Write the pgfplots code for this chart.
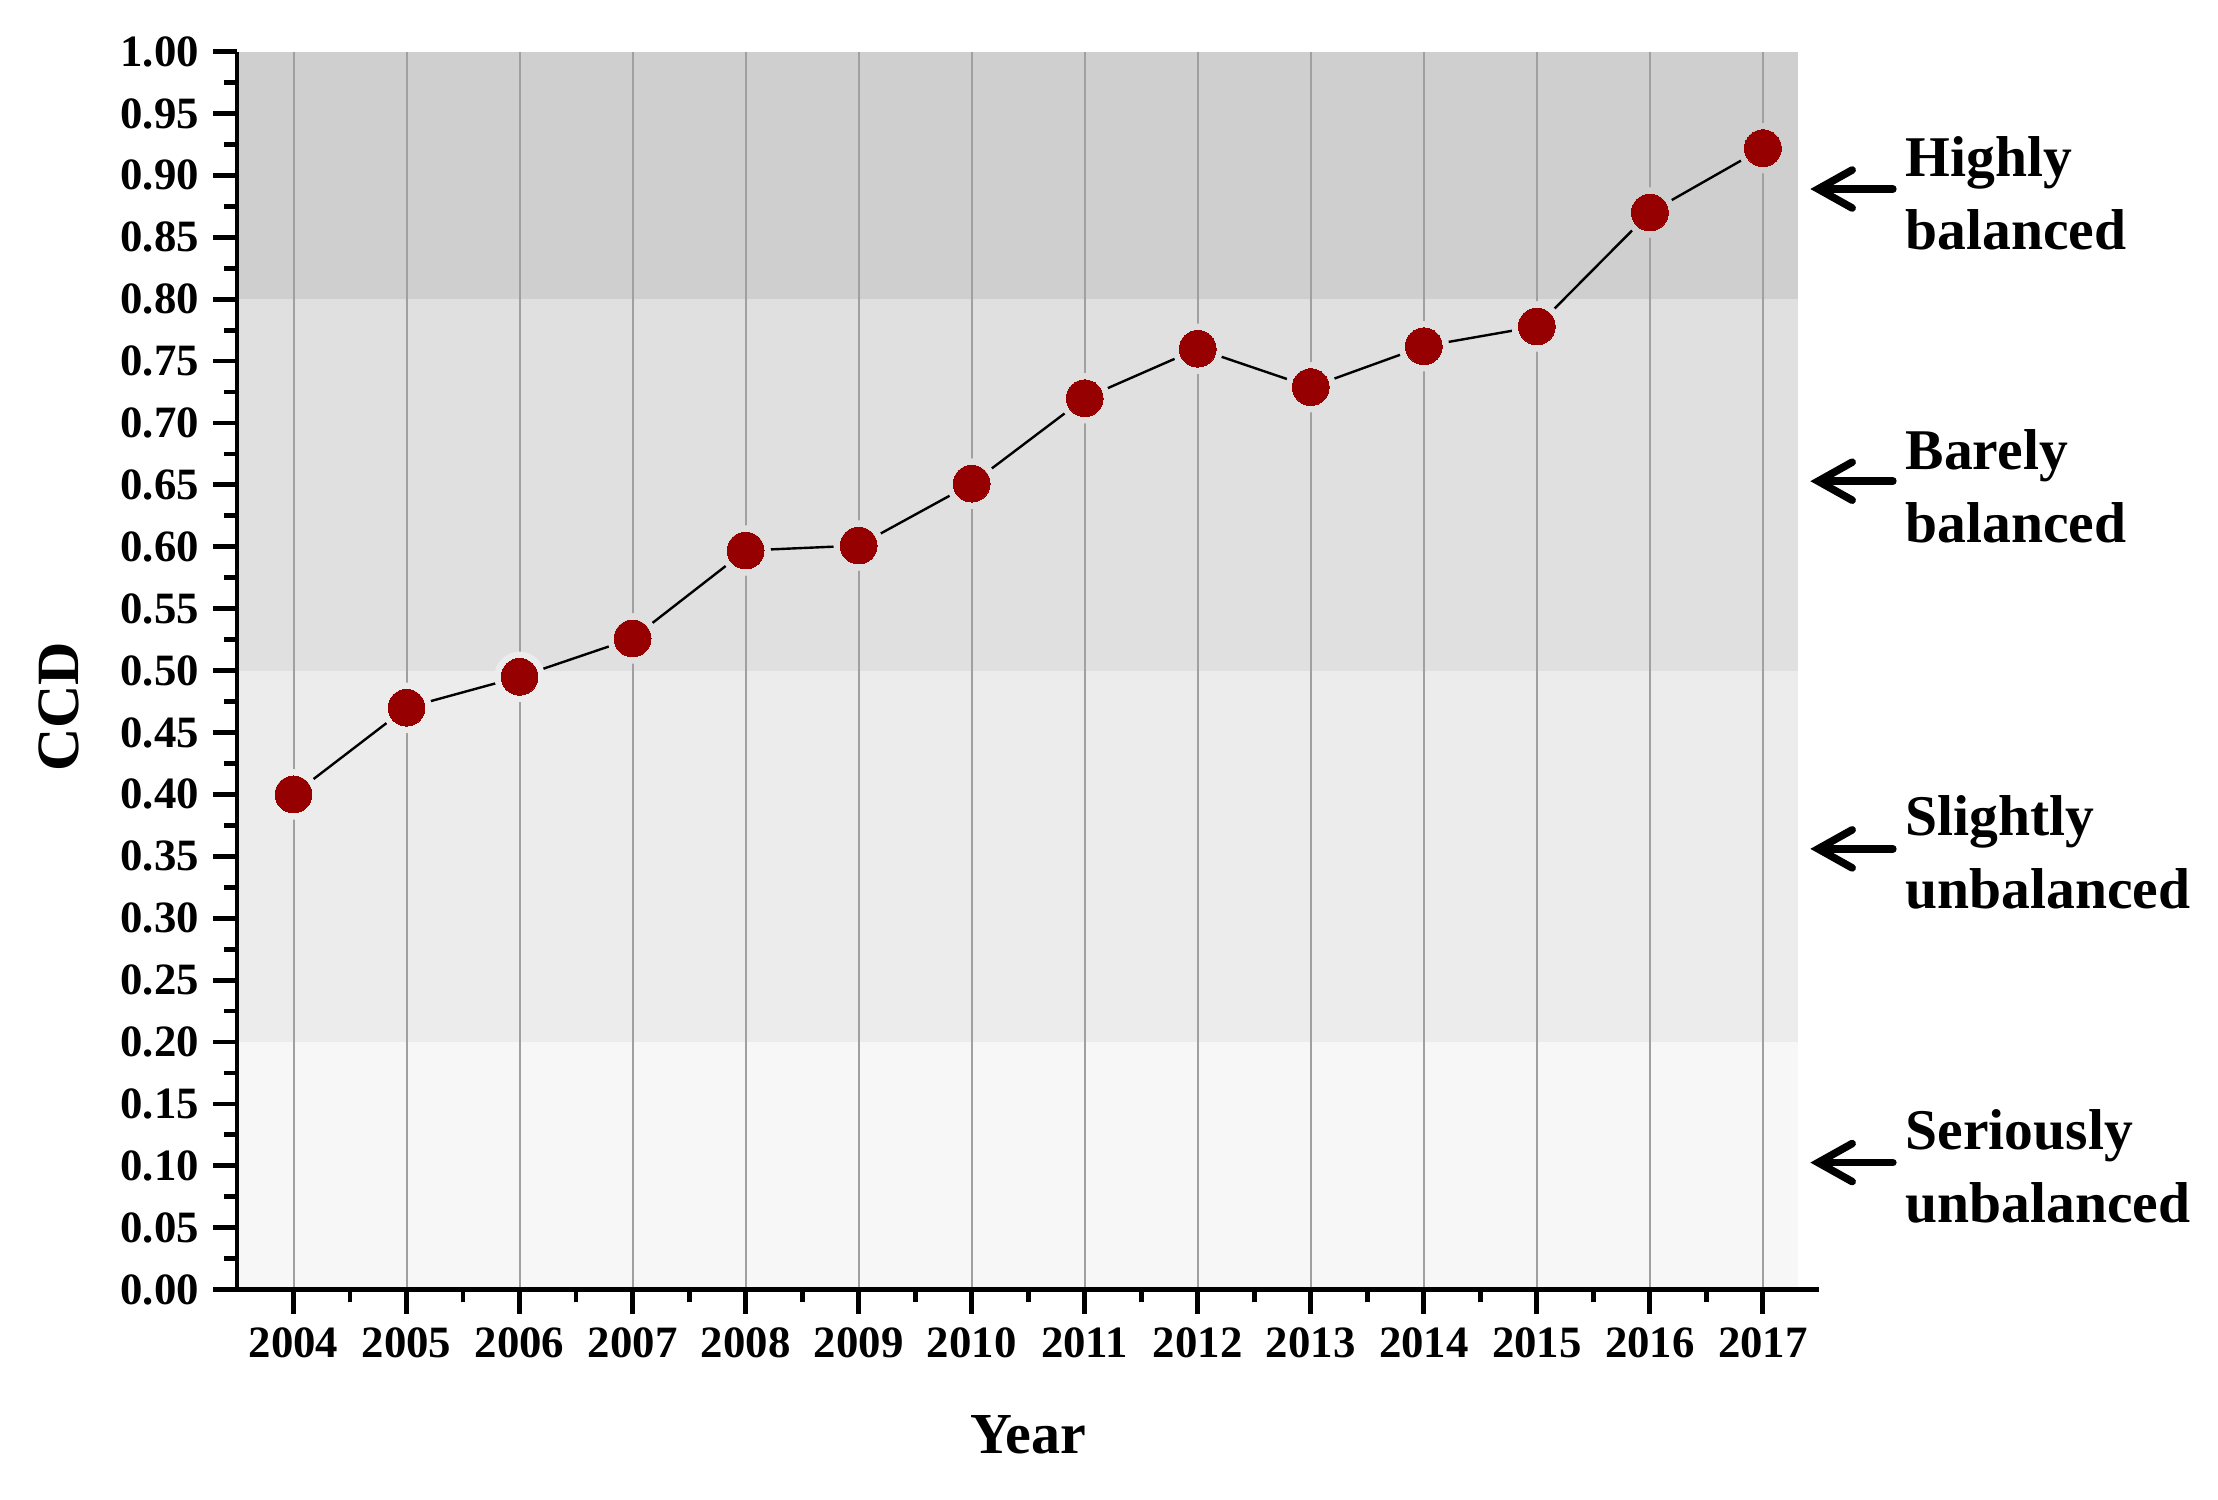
\documentclass[border=0pt]{standalone}
\usepackage{pgfplots}
\pgfplotsset{compat=1.18}
\usepackage{pgfplotstable}
\usepackage{fontspec}
\setmainfont{Liberation Serif}
\usetikzlibrary{arrows.meta}
\definecolor{band1}{RGB}{247,247,247}
\definecolor{band2}{RGB}{236,236,236}
\definecolor{band3}{RGB}{224,224,224}
\definecolor{band4}{RGB}{207,207,207}
\definecolor{gridgray}{RGB}{160,160,160}
\definecolor{dotred}{RGB}{150,0,0}

\pgfplotstableread{
year ccd
2004 0.400
2005 0.470
2006 0.495
2007 0.526
2008 0.597
2009 0.601
2010 0.651
2011 0.720
2012 0.760
2013 0.729
2014 0.762
2015 0.778
2016 0.870
2017 0.922
}\ccdtable

\begin{document}
\begin{tikzpicture}
\begin{axis}[
  set layers,
  at={(0,0)}, anchor=south west,
  scale only axis, width=395.6pt, height=309.5pt,
  xmin=2003.5, xmax=2017.5, ymin=0, ymax=1,
  axis lines*=left,
  axis line style={line width=1.2pt},
  xtick={2004,2005,2006,2007,2008,2009,2010,2011,2012,2013,2014,2015,2016,2017},
  minor x tick num=1,
  ytick={0,0.05,0.1,0.15,0.2,0.25,0.3,0.35,0.4,0.45,0.5,0.55,0.6,0.65,0.7,0.75,0.8,0.85,0.9,0.95,1},
  minor y tick num=1,
  tick align=outside,
  major tick length=6pt, minor tick length=3.2pt,
  every tick/.style={black, line width=1.2pt},
  xmajorgrids,
  major grid style={gridgray, line width=0.5pt},
  ticklabel style={font=\fontsize{11.2}{13}\selectfont\bfseries},
  /pgf/number format/assume math mode=true,
  x tick label style={/pgf/number format/1000 sep={}},
  y tick label style={/pgf/number format/.cd, fixed, fixed zerofill, precision=2},
  clip=false,
]
% background bands
\addplot[draw=none, fill=band1, on layer=axis background, forget plot] coordinates {(2003.5,0) (2017.307,0) (2017.307,0.2) (2003.5,0.2)};
\addplot[draw=none, fill=band2, on layer=axis background, forget plot] coordinates {(2003.5,0.2) (2017.307,0.2) (2017.307,0.5) (2003.5,0.5)};
\addplot[draw=none, fill=band3, on layer=axis background, forget plot] coordinates {(2003.5,0.5) (2017.307,0.5) (2017.307,0.8) (2003.5,0.8)};
\addplot[draw=none, fill=band4, on layer=axis background, forget plot] coordinates {(2003.5,0.8) (2017.307,0.8) (2017.307,1) (2003.5,1)};
% connecting line (below grid)
\addplot[black, line width=0.6pt, mark=none, on layer=axis background, forget plot] table[x=year,y=ccd] {\ccdtable};
% halos giving the gap between line and markers
\addplot[band2, only marks, mark=*, mark size=6.2pt, mark options={fill=band2, draw=band2, line width=0.2pt}, on layer=axis background, forget plot, restrict y to domain=0.2:0.4999] table[x=year,y=ccd] {\ccdtable};
\addplot[band3, only marks, mark=*, mark size=6.2pt, mark options={fill=band3, draw=band3, line width=0.2pt}, on layer=axis background, forget plot, restrict y to domain=0.5:0.7999] table[x=year,y=ccd] {\ccdtable};
\addplot[band4, only marks, mark=*, mark size=6.2pt, mark options={fill=band4, draw=band4, line width=0.2pt}, on layer=axis background, forget plot, restrict y to domain=0.8:1] table[x=year,y=ccd] {\ccdtable};
% markers
\addplot[dotred, only marks, mark=*, mark size=4.6pt, mark options={fill=dotred, draw=dotred, line width=0pt}] table[x=year,y=ccd] {\ccdtable};
% annotations
\foreach \yy in {0.889, 0.653, 0.356, 0.1026}{
  \edef\tmp{\noexpand\draw[line width=1.9pt, line cap=round, -{Straight Barb[length=8.5pt,width=9.5pt,line cap=round]}] (axis cs:2018.15,\yy) -- (axis cs:2017.42,\yy);}
  \tmp
}
\node[anchor=west, align=left, inner sep=0pt, font=\fontsize{14.4}{18.3}\selectfont\bfseries] at ([xshift=3pt,yshift=-1pt]axis cs:2018.15,0.889) {Highly\\balanced};
\node[anchor=west, align=left, inner sep=0pt, font=\fontsize{14.4}{18.3}\selectfont\bfseries] at ([xshift=3pt,yshift=-1.2pt]axis cs:2018.15,0.653) {Barely\\balanced};
\node[anchor=west, align=left, inner sep=0pt, font=\fontsize{14.4}{18.3}\selectfont\bfseries] at ([xshift=3pt,yshift=-0.8pt]axis cs:2018.15,0.356) {Slightly\\unbalanced};
\node[anchor=west, align=left, inner sep=0pt, font=\fontsize{14.4}{18.3}\selectfont\bfseries] at ([xshift=3pt,yshift=-1pt]axis cs:2018.15,0.1026) {Seriously\\unbalanced};
% axis labels
\node[rotate=90, font=\fontsize{15}{18}\selectfont\bfseries] at ([xshift=-44.5pt]axis description cs:0,0.4707) {CCD};
\node[anchor=base, font=\fontsize{14.5}{18}\selectfont\bfseries] at ([yshift=-41pt]axis description cs:0.5,0) {Year};
\end{axis}
\path (-59.25pt,-52.6pt) rectangle (495.25pt,322.4pt);
\end{tikzpicture}
\end{document}
